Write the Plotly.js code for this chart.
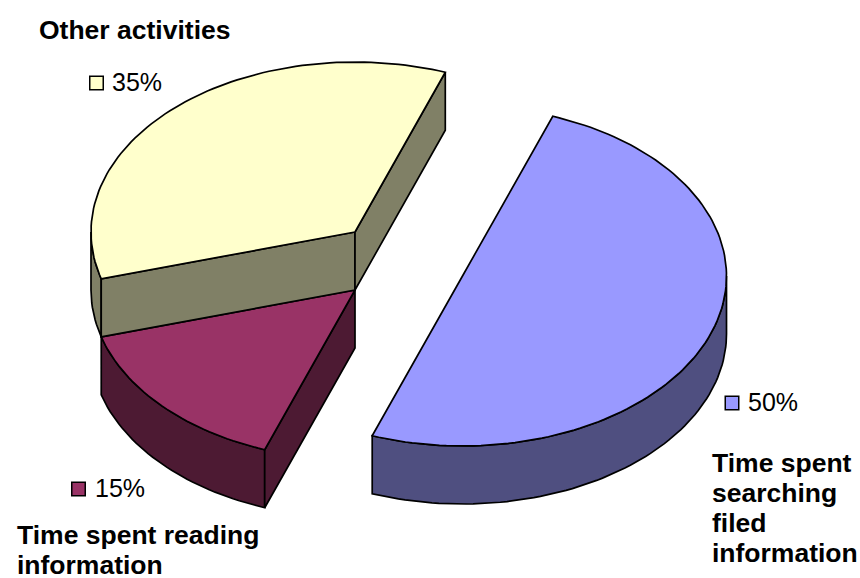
<!DOCTYPE html>
<html><head><meta charset="utf-8">
<script src="https://cdn.plot.ly/plotly-3.0.1.min.js"></script>
<style>html,body{margin:0;padding:0;background:#fff}#c{width:860px;height:578px}</style>
</head><body><div id="c"></div>
<script>
const categories = ["Time spent searching filed information", "Time spent reading information", "Other activities"];
const categoryLines = [["Time spent", "searching", "filed", "information"], ["Time spent reading", "information"], ["Other activities"]];
const values = [50, 15, 35];
const topColors = ["#9999FF", "#993366", "#FFFFCC"];
const sideColors = ["#4F4F80", "#4D1A33", "#808066"];

// projection of the tilted, exploded pie
const START_DEG = 70, A = 264, B = 170, DEPTH = 58;
const centres = [[462.5, 276], [355, 290], [355, 232]];
const rad = d => d * Math.PI / 180;
const pt = (c, t, dz = 0) => [c[0] + A * Math.cos(rad(t)), c[1] - B * Math.sin(rad(t)) + dz];
function arc(c, t0, t1, dz = 0) {
  const n = Math.max(2, Math.ceil(Math.abs(t1 - t0) / 1.5)), out = [];
  for (let i = 0; i <= n; i++) out.push(pt(c, t0 + (t1 - t0) * i / n, dz));
  return out;
}
const poly = (pts, fill, name) => ({
  type: "scatter", mode: "lines", x: pts.map(p => p[0]), y: pts.map(p => p[1]),
  fill: "toself", fillcolor: fill, line: {color: "#000", width: 1.7, shape: "linear"},
  hoverinfo: "skip", name, showlegend: false
});
// slice angles from the values
const spans = []; let a0 = START_DEG;
values.forEach(v => { spans.push([a0, a0 - v * 3.6]); a0 -= v * 3.6; });

function rimWall(c, t0, t1) { return arc(c, t0, t1).concat(arc(c, t1, t0, DEPTH)).concat([pt(c, t0)]); }
function cutWall(c, t) {
  const p = pt(c, t), q = pt(c, t, DEPTH);
  return [c, p, q, [c[0], c[1] + DEPTH], c];
}
function closeWedge(c, t0, t1) { return [c].concat(arc(c, t0, t1), [c]); }

const traces = [];
const [sB, sM, sY] = spans;
// maroon
traces.push(poly(rimWall(centres[1], sM[0], sM[1]), sideColors[1], categories[1]));
traces.push(poly(cutWall(centres[1], sM[0]), sideColors[1], categories[1]));
traces.push(poly(closeWedge(centres[1], sM[0], sM[1]), topColors[1], categories[1]));
// yellow
traces.push(poly(rimWall(centres[2], sY[0], -180), sideColors[2], categories[2]));
traces.push(poly(cutWall(centres[2], sY[0]), sideColors[2], categories[2]));
traces.push(poly(cutWall(centres[2], sY[1] + 360), sideColors[2], categories[2]));
traces.push(poly(closeWedge(centres[2], sY[0], sY[1]), topColors[2], categories[2]));
// blue
traces.push(poly(rimWall(centres[0], 0, sB[1]), sideColors[0], categories[0]));
traces.push(poly(closeWedge(centres[0], sB[0], sB[1]), topColors[0], categories[0]));

// legend keys
const keyX = [732, 78.5, 96.5], keyY = [403, 489, 83];
traces.push({type: "scatter", mode: "markers", x: keyX, y: keyY,
  marker: {symbol: "square", size: 13.5, color: topColors, line: {color: "#000", width: 1.5}},
  hoverinfo: "skip", showlegend: false});

const FS = "Liberation Sans, Arial, sans-serif";
const pctX = [746, 93, 110], pctY = [402, 488, 82];
const labX = [710, 15, 37], labY = [463, 535, 30], LINE_GAP = 30;
const annotations = [];
values.forEach((v, i) => annotations.push({x: pctX[i], y: pctY[i], xref: "x", yref: "y", text: v + "%",
  showarrow: false, xanchor: "left", yanchor: "middle", font: {family: FS, size: 25, color: "#000"}}));
categoryLines.forEach((lines, i) => lines.forEach((t, j) => annotations.push({
  x: labX[i], y: labY[i] + j * LINE_GAP, xref: "x", yref: "y", text: t,
  showarrow: false, xanchor: "left", yanchor: "middle", align: "left",
  font: {family: FS, size: 26.5, color: "#000", weight: 700}})));

Plotly.newPlot("c", traces, {
  width: 860, height: 578, margin: {l: 0, r: 0, t: 0, b: 0}, showlegend: false,
  paper_bgcolor: "#fff", plot_bgcolor: "#fff",
  xaxis: {range: [0, 860], visible: false, fixedrange: true},
  yaxis: {range: [578, 0], visible: false, fixedrange: true},
  annotations
}, {displayModeBar: false, staticPlot: true});
</script></body></html>
